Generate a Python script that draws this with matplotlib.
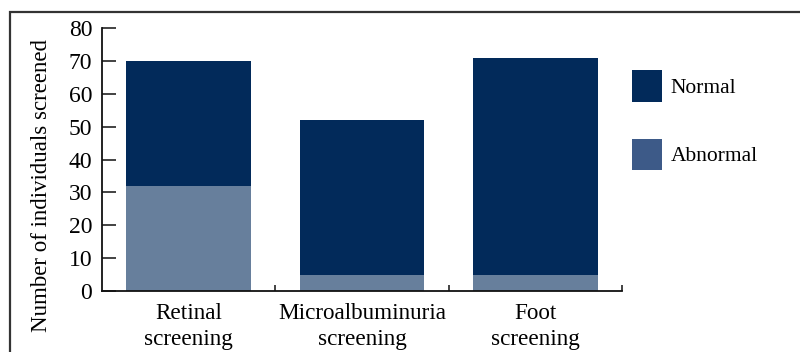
import matplotlib
matplotlib.use("Agg")
import matplotlib.pyplot as plt
from matplotlib.patches import Patch, Rectangle
import numpy as np

categories = ["Retinal\nscreening", "Microalbuminuria\nscreening", "Foot\nscreening"]
abnormal = [32, 5, 5]
normal = [38, 47, 66]   # stacked on top of abnormal (totals 70, 52, 71)
yticks = [0, 10, 20, 30, 40, 50, 60, 70, 80]

c_normal = "#022a5a"
c_abn_bar = "#677f9c"
c_abn_leg = "#3d5a88"

plt.rcParams["font.family"] = ["Liberation Serif", "DejaVu Serif"]

fig = plt.figure(figsize=(8.0, 3.52), dpi=100)
ax = fig.add_axes([102/800, 1-291/352, 520/800, 263/352])

x = np.arange(len(categories))
ax.bar(x, abnormal, width=0.72, color=c_abn_bar, zorder=2)
ax.bar(x, normal, bottom=abnormal, width=0.72, color=c_normal, zorder=2)

ax.set_xlim(-0.5, 2.5)
ax.set_ylim(0, 80)
ax.set_yticks(yticks)
ax.set_yticklabels([str(v) for v in yticks], fontsize=17)
ax.tick_params(axis="y", direction="in", length=10, width=1.2, pad=7, color="#222222")
ax.set_xticks(x)
ax.set_xticklabels(categories, fontsize=16.7, linespacing=1.32)
ax.tick_params(axis="x", which="major", length=0, pad=8.5)
ax.set_xticks([0.5, 1.5, 2.5], minor=True)
ax.tick_params(axis="x", which="minor", direction="in", length=4.5, width=1.2, color="#222222")
for s in ["top", "right"]:
    ax.spines[s].set_visible(False)
for s in ["left", "bottom"]:
    ax.spines[s].set_linewidth(1.3)
    ax.spines[s].set_color("#111111")

ax.set_ylabel("Number of individuals screened", fontsize=16.5)
ax.yaxis.set_label_coords(-0.096, 0.40)

handles = [Patch(facecolor=c_normal, edgecolor="none"), Patch(facecolor=c_abn_leg, edgecolor="none")]
ax.legend(handles, ["Normal", "Abnormal"], loc="upper left", bbox_to_anchor=(0.99, 0.897),
          frameon=False, fontsize=15.5, handlelength=1.4, handleheight=1.9,
          handletextpad=0.4, labelspacing=1.7, borderaxespad=0.3)

# figure frame (partially visible: left and top edges)
fig.patches.append(Rectangle((10/800, -0.2), 1.2, 1.2 - 12/352, transform=fig.transFigure,
                             fill=False, edgecolor="#333333", linewidth=1.6, zorder=0))

fig.savefig("out.png", dpi=100)
